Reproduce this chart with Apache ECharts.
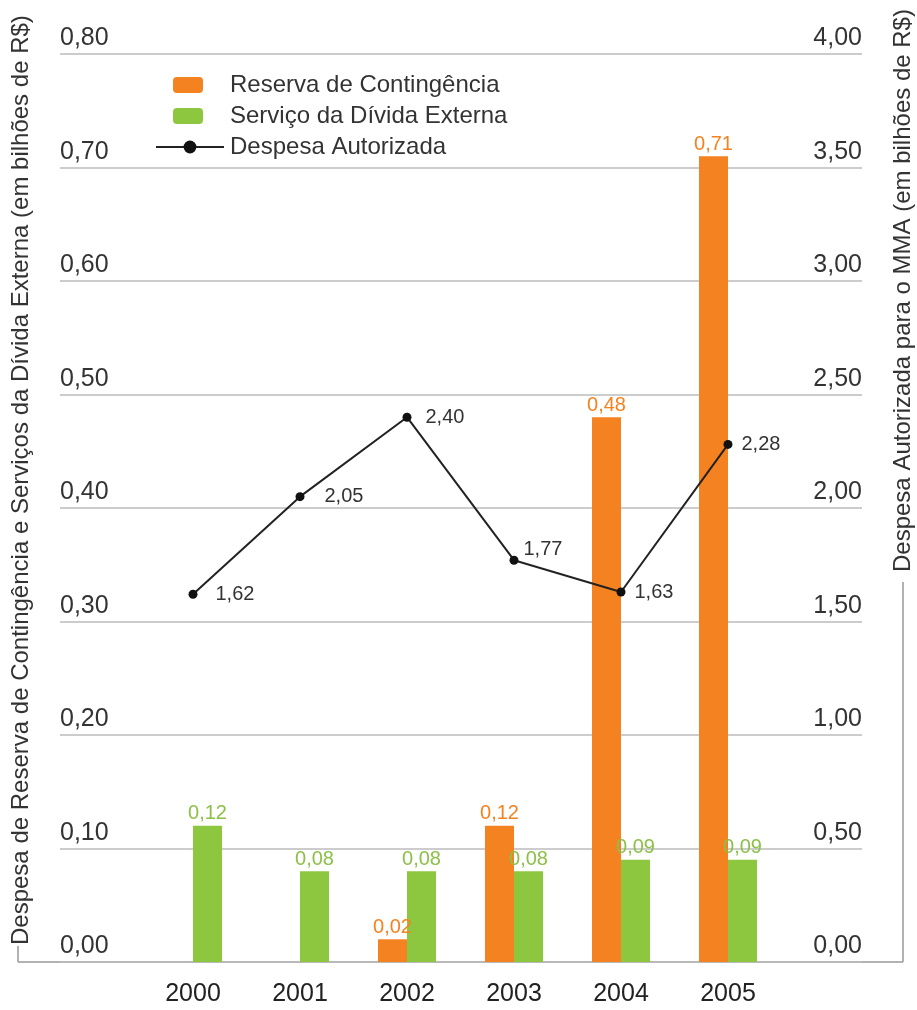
<!DOCTYPE html>
<html>
<head>
<meta charset="utf-8">
<script src="https://cdn.jsdelivr.net/npm/echarts@6/dist/echarts.min.js"></script>
<style>html,body{margin:0;padding:0;background:#fff}#c{width:917px;height:1010px}</style>
</head>
<body>
<div id="c"></div>
<script>
var years = ['2000', '2001', '2002', '2003', '2004', '2005'];
var reserva = [null, null, 0.02, 0.12, 0.48, 0.71];
var servico = [0.12, 0.08, 0.08, 0.08, 0.09, 0.09];
var despesa = [1.62, 2.05, 2.40, 1.77, 1.63, 2.28];
var leftTicks = { min: 0, max: 0.8, interval: 0.1 };
var rightTicks = { min: 0, max: 4, interval: 0.5 };
var names = ['Reserva de Contingência', 'Serviço da Dívida Externa', 'Despesa Autorizada'];
var leftTitle = 'Despesa de Reserva de Contingência e Serviços da Dívida Externa (em bilhões de R$)';
var rightTitle = 'Despesa Autorizada para o MMA (em bilhões de R$)';

// label placement styles for the line labels (style only)
var lineLabelDist = [18, 20, 14, 5, 9, 9];
var lineLabelOffY = [0, 0, 0, -11, 0, 0];

var FONT = '"Liberation Sans", Arial, sans-serif';
var ORANGE = '#F58220';
var GREEN = '#8DC63F';
function fmt(v) { return v.toFixed(2).replace('.', ','); }

var chart = echarts.init(document.getElementById('c'), null, { renderer: 'canvas' });
chart.setOption({
  animation: false,
  backgroundColor: '#fff',
  textStyle: { fontFamily: FONT },
  grid: [
    { left: 60, right: 55, top: 54, bottom: 48 },
    { left: 139.5, right: 135.5, top: 54, bottom: 48 }
  ],
  legend: [
    {
      data: [names[0], names[1]], orient: 'vertical', left: 168, top: 68,
      itemWidth: 30, itemHeight: 16, itemGap: 7,
      textStyle: { fontSize: 24, color: '#333', fontFamily: FONT, lineHeight: 24, padding: [0, 0, 0, 22] }
    },
    {
      data: [names[2]], orient: 'vertical', left: 150, top: 130,
      itemWidth: 68, itemHeight: 16,
      textStyle: { fontSize: 24, color: '#333', fontFamily: FONT, lineHeight: 24, padding: [0, 0, 0, 1] }
    }
  ],
  xAxis: [
    { type: 'value', gridIndex: 0, show: false, min: 0, max: 1 },
    {
      type: 'category', gridIndex: 1, data: years,
      axisLine: { show: false }, axisTick: { show: false },
      axisLabel: { fontSize: 25, color: '#222', margin: 20, fontFamily: FONT }
    }
  ],
  yAxis: [
    {
      type: 'value', gridIndex: 0, position: 'left',
      min: leftTicks.min, max: leftTicks.max, interval: leftTicks.interval,
      axisLine: { show: false }, axisTick: { show: false },
      splitLine: { show: true, lineStyle: { color: '#bbbbbb', width: 1.5 } },
      axisLabel: {
        inside: true, margin: 0, align: 'left', verticalAlign: 'bottom',
        fontSize: 25, color: '#333', lineHeight: 25, padding: [0, 0, 3, 0],
        fontFamily: FONT, formatter: fmt
      }
    },
    {
      type: 'value', gridIndex: 0, position: 'right',
      min: rightTicks.min, max: rightTicks.max, interval: rightTicks.interval,
      axisLine: { show: false }, axisTick: { show: false },
      splitLine: { show: false },
      axisLabel: {
        inside: true, margin: 0, align: 'right', verticalAlign: 'bottom',
        fontSize: 25, color: '#333', lineHeight: 25, padding: [0, 0, 3, 0],
        fontFamily: FONT, formatter: fmt
      }
    },
    { type: 'value', gridIndex: 1, min: leftTicks.min, max: leftTicks.max, show: false },
    { type: 'value', gridIndex: 1, min: rightTicks.min, max: rightTicks.max, show: false, position: 'right' }
  ],
  series: [
    {
      name: names[0], type: 'bar', xAxisIndex: 1, yAxisIndex: 2,
      data: reserva, barWidth: 29, barGap: '0%',
      itemStyle: { color: ORANGE },
      label: { show: true, position: 'top', distance: 2, fontSize: 20, color: ORANGE, fontFamily: FONT,
        formatter: function (p) { return fmt(p.value); } }
    },
    {
      name: names[1], type: 'bar', xAxisIndex: 1, yAxisIndex: 2,
      data: servico, barWidth: 29, barGap: '0%',
      itemStyle: { color: GREEN },
      label: { show: true, position: 'top', distance: 2, fontSize: 20, color: '#8CC048', fontFamily: FONT,
        formatter: function (p) { return fmt(p.value); } }
    },
    {
      name: names[2], type: 'line', xAxisIndex: 1, yAxisIndex: 3,
      data: despesa.map(function (v, i) {
        return { value: v, label: { distance: lineLabelDist[i], offset: [0, lineLabelOffY[i]] } };
      }),
      symbol: 'circle', symbolSize: 9,
      lineStyle: { color: '#222', width: 2 },
      itemStyle: { color: '#111' },
      label: { show: true, position: 'right', fontSize: 20, color: '#333', fontFamily: FONT,
        formatter: function (p) { return fmt(p.value); } },
      z: 5
    }
  ],
  graphic: [
    {
      type: 'text', x: 21, y: 945, rotation: Math.PI / 2,
      style: { text: leftTitle, fontSize: 24, fill: '#333', fontFamily: FONT, textAlign: 'left', textVerticalAlign: 'middle' }
    },
    {
      type: 'text', x: 903, y: 572, rotation: Math.PI / 2,
      style: { text: rightTitle, fontSize: 24, fill: '#333', fontFamily: FONT, textAlign: 'left', textVerticalAlign: 'middle' }
    },
    { type: 'line', shape: { x1: 18, y1: 962, x2: 903, y2: 962 }, style: { stroke: '#999', lineWidth: 1.5 } },
    { type: 'line', shape: { x1: 18, y1: 946, x2: 18, y2: 962 }, style: { stroke: '#999', lineWidth: 1.5 } },
    { type: 'line', shape: { x1: 903, y1: 582, x2: 903, y2: 962 }, style: { stroke: '#999', lineWidth: 1.5 } }
  ]
});
</script>
</body>
</html>
